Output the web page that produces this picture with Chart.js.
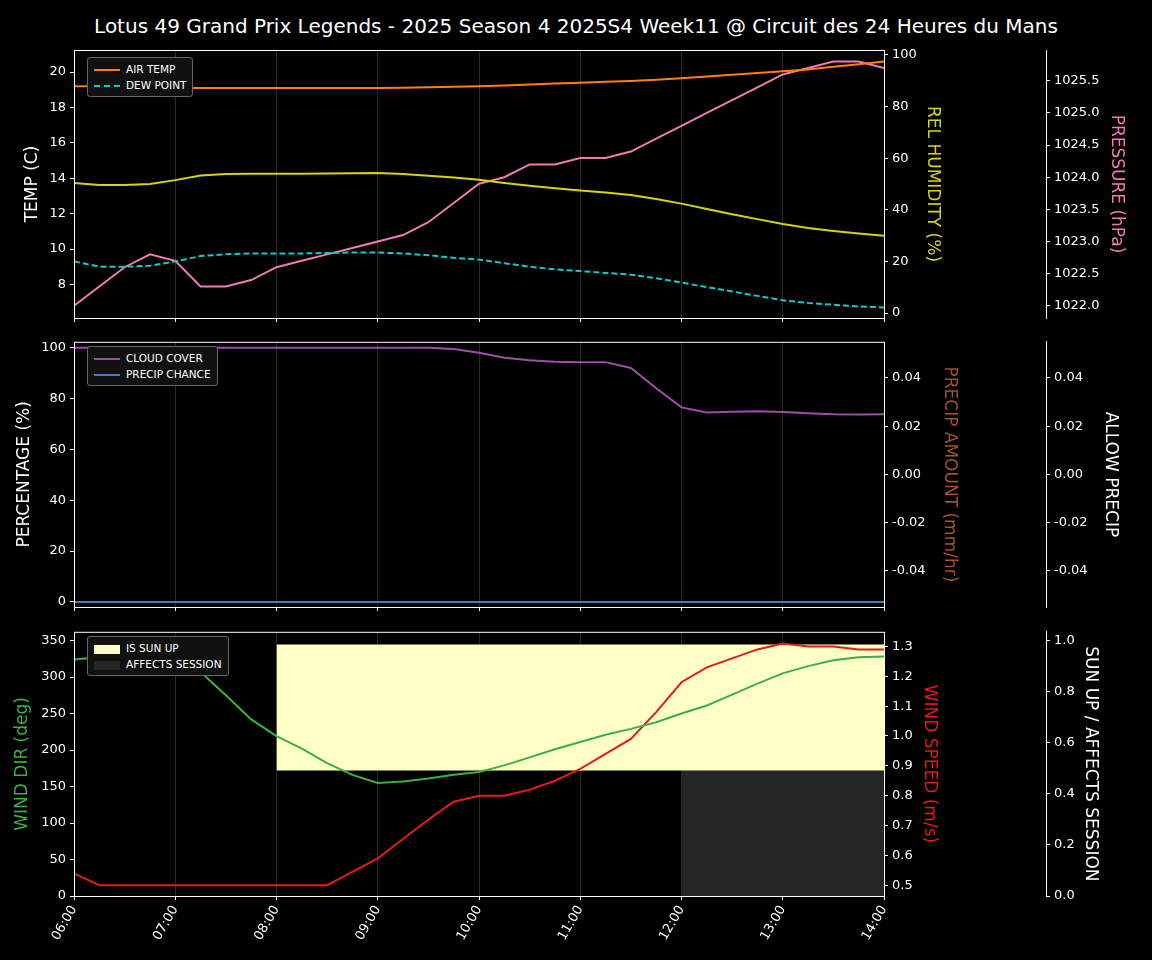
<!DOCTYPE html>
<html>
<head>
<meta charset="utf-8">
<script src="https://cdn.jsdelivr.net/npm/chart.js@4/dist/chart.umd.min.js"></script>
<style>
  body { margin: 0; background: #000; width: 1152px; height: 960px; position: relative; overflow: hidden; font-family: "DejaVu Sans", sans-serif; }
  canvas { position: absolute; left: 0; }
  #title { position: absolute; top: 14px; left: 0; width: 1152px; text-align: center; color: #fff; font-size: 20px; }
  .legend { position: absolute; border: 1px solid #666; border-radius: 3px; background: #111; color: #fff; font-size: 10.5px; padding: 3px 6px; }
  .legend div { height: 16px; line-height: 16px; white-space: nowrap; }
  .sw { display: inline-block; width: 26px; margin-right: 6px; vertical-align: middle; }
</style>
</head>
<body>
<div id="title">Lotus 49 Grand Prix Legends - 2025 Season 4 2025S4 Week11 @ Circuit des 24 Heures du Mans</div>
<canvas id="c1"></canvas>
<canvas id="c2"></canvas>
<canvas id="c3"></canvas>
<div class="legend" style="left:87px;top:57px">
  <div><span class="sw" style="border-top:2px solid #ff7f0e"></span>AIR TEMP</div>
  <div><span class="sw" style="border-top:2px dashed #17c8c8"></span>DEW POINT</div>
</div>
<div class="legend" style="left:87px;top:346px">
  <div><span class="sw" style="border-top:2px solid #9b4fa5"></span>CLOUD COVER</div>
  <div><span class="sw" style="border-top:2px solid #3d7fc4"></span>PRECIP CHANCE</div>
</div>
<div class="legend" style="left:87px;top:636px">
  <div><span class="sw" style="height:9px;background:#ffffc6"></span>IS SUN UP</div>
  <div><span class="sw" style="height:9px;background:#262626"></span>AFFECTS SESSION</div>
</div>
<script>
const times = ['06:00','06:15','06:30','06:45','07:00','07:15','07:30','07:45','08:00','08:15','08:30','08:45',
  '09:00','09:15','09:30','09:45','10:00','10:15','10:30','10:45','11:00','11:15','11:30','11:45',
  '12:00','12:15','12:30','12:45','13:00','13:15','13:30','13:45','14:00'];
const hourTicks = ['06:00','07:00','08:00','09:00','10:00','11:00','12:00','13:00','14:00'];

const airTemp = [19.2,19.2,19.15,19.1,19.1,19.1,19.1,19.1,19.1,19.1,19.1,19.1,
  19.1,19.12,19.14,19.17,19.2,19.25,19.3,19.35,19.4,19.45,19.5,19.57,
  19.65,19.75,19.85,19.95,20.05,20.15,20.3,20.45,20.6];
const dewPoint = [9.3,9.0,9.0,9.05,9.3,9.6,9.7,9.75,9.75,9.75,9.78,9.8,
  9.8,9.75,9.65,9.5,9.4,9.2,9.0,8.85,8.75,8.65,8.55,8.35,
  8.1,7.85,7.6,7.35,7.1,6.95,6.85,6.75,6.7];
const humidity = [50.4,49.6,49.6,50,51.5,53.3,53.9,54,54,54,54.1,54.2,
  54.3,53.9,53.2,52.5,51.6,50.4,49.3,48.4,47.5,46.7,45.7,44.2,
  42.4,40.3,38.3,36.4,34.5,33,31.8,30.8,30];
const pressure = [1022.0,1022.3,1022.6,1022.8,1022.7,1022.3,1022.3,1022.4,1022.6,1022.7,1022.8,1022.9,
  1023.0,1023.1,1023.3,1023.6,1023.9,1024.0,1024.2,1024.2,1024.3,1024.3,1024.4,1024.6,
  1024.8,1025.0,1025.2,1025.4,1025.6,1025.7,1025.8,1025.8,1025.7];
const cloudCover = [100,100,100,100,100,100,100,100,100,100,100,100,
  100,100,100,99.5,98,96,95,94.5,94.3,94.3,92,84,
  76.5,74.5,74.8,75,74.7,74.2,73.8,73.7,73.8];
const precipChance = times.map(() => 0);
const windDir = [324,327,331,331,330,307,275,242,219,202,182,166,
  155,157,161,166,170,179,190,201,211,221,229,238,
  250,261,276,291,305,315,323,327,328];
const windSpeed = [0.54,0.5,0.5,0.5,0.5,0.5,0.5,0.5,0.5,0.5,0.5,0.545,
  0.59,0.655,0.72,0.78,0.8,0.8,0.82,0.85,0.89,0.94,0.99,1.08,
  1.18,1.23,1.26,1.29,1.31,1.30,1.30,1.29,1.29];
const sunUp = [['08:00', 0.492, 0.985], ['14:00', 0.492, 0.985]];
const affects = [['12:00', 0, 0.492], ['14:00', 0, 0.492]];

const hrs = t => { const [h, m] = t.split(':').map(Number); return h + m / 60; };
const pts = arr => arr.map((v, i) => ({x: hrs(times[i]), y: v}));
const fmtHour = v => String(Math.floor(v)).padStart(2, '0') + ':00';

Chart.defaults.font.family = '"DejaVu Sans", sans-serif';
Chart.defaults.color = '#fff';
Chart.defaults.animation = false;

const frame = {
  id: 'frame',
  afterDatasetsDraw(chart) {
    const a = chart.chartArea, ctx = chart.ctx;
    ctx.save();
    ctx.strokeStyle = '#fff';
    ctx.lineWidth = 1;
    ctx.strokeRect(a.left + 0.5, a.top + 0.5, a.right - a.left, a.bottom - a.top);
    ctx.restore();
  }
};

function fixTicks(vals) {
  return scale => { scale.ticks = vals.map(v => ({value: v})); };
}

function yAxis(pos, opts) {
  return {
    position: pos,
    min: opts.min, max: opts.max,
    weight: opts.weight || 0,
    afterBuildTicks: fixTicks(opts.ticks),
    afterFit: s => { s.width = opts.width; },
    grid: {drawOnChartArea: false, color: '#fff', tickLength: 4},
    border: {display: !!opts.border, color: '#fff'},
    ticks: {color: '#fff', font: {size: 13}, padding: 4, callback: opts.fmt || (v => v)},
    title: {display: true, text: opts.title, color: opts.color || '#fff', font: {size: 17}, padding: {top: opts.tp, bottom: 0}}
  };
}

function xAxis(height, labels) {
  return {
    type: 'linear', min: 6, max: 14,
    afterBuildTicks: fixTicks(hourTicks.map(hrs)),
    afterFit: s => { s.height = height; },
    grid: {color: '#2a2a2a', tickLength: 4, tickColor: '#fff'},
    border: {display: false},
    ticks: {display: labels, color: '#fff', font: {size: 13}, maxRotation: 60, minRotation: 60, callback: fmtHour}
  };
}

function line(data, color, axis, extra) {
  return Object.assign({data: pts(data), borderColor: color, backgroundColor: color, borderWidth: 2,
    pointRadius: 0, yAxisID: axis, fill: false, order: 0}, extra || {});
}

function setup(id, top, height, padTop) {
  const c = document.getElementById(id);
  c.style.top = top + 'px';
  c.width = 1152; c.height = height;
  c.style.width = '1152px'; c.style.height = height + 'px';
  return {padding: {top: padTop, left: 0, right: 0, bottom: 0}};
}

const common = {responsive: false, plugins: {legend: {display: false}, tooltip: {enabled: false}}};

new Chart('c1', {
  type: 'line',
  data: {datasets: [
    line(airTemp, '#ff7f0e', 'temp'),
    line(dewPoint, '#17c8c8', 'temp', {borderDash: [6, 3]}),
    line(humidity, '#d4d414', 'hum'),
    line(pressure, '#f07ab4', 'pres')
  ]},
  options: Object.assign({}, common, {
    layout: setup('c1', 0, 330, 50),
    scales: {
      x: xAxis(12, false),
      temp: yAxis('left', {min: 6.1, max: 21.25, ticks: [8,10,12,14,16,18,20], width: 74, title: 'TEMP (C)', tp: 22}),
      hum: yAxis('right', {min: -1.9, max: 101.9, ticks: [0,20,40,60,80,100], width: 162, title: 'REL HUMIDITY (%)', color: '#d4d414', tp: 103}),
      pres: yAxis('right', {min: 1021.81, max: 1025.98, ticks: [1022,1022.5,1023,1023.5,1024,1024.5,1025,1025.5], width: 106, weight: 1, border: true, title: 'PRESSURE (hPa)', color: '#f07ab4', tp: 25, fmt: v => v.toFixed(1)})
    }
  }),
  plugins: [frame]
});

new Chart('c2', {
  type: 'line',
  data: {datasets: [
    line(cloudCover, '#9b4fa5', 'pct'),
    line(precipChance, '#3d7fc4', 'pct')
  ]},
  options: Object.assign({}, common, {
    layout: setup('c2', 330, 290, 8),
    scales: {
      x: xAxis(13, false),
      pct: yAxis('left', {min: -2, max: 102.3, ticks: [0,20,40,60,80,100], width: 74, title: 'PERCENTAGE (%)', tp: 14}),
      amt: yAxis('right', {min: -0.055, max: 0.055, ticks: [-0.04,-0.02,0,0.02,0.04], width: 162, title: 'PRECIP AMOUNT (mm/hr)', color: '#a0522d', tp: 86, fmt: v => v.toFixed(2)}),
      allow: yAxis('right', {min: -0.055, max: 0.055, ticks: [-0.04,-0.02,0,0.02,0.04], width: 106, weight: 1, border: true, title: 'ALLOW PRECIP', tp: 31, fmt: v => v.toFixed(2)})
    }
  }),
  plugins: [frame]
});

new Chart('c3', {
  type: 'line',
  data: {datasets: [
    {data: sunUp.map(r => ({x: hrs(r[0]), y: r[1]})), yAxisID: 'sun', borderWidth: 0, pointRadius: 0, fill: false, order: 10},
    {data: sunUp.map(r => ({x: hrs(r[0]), y: r[2]})), yAxisID: 'sun', borderWidth: 0, pointRadius: 0, fill: '-1', backgroundColor: '#ffffc6', order: 10},
    {data: affects.map(r => ({x: hrs(r[0]), y: r[2]})), yAxisID: 'sun', borderWidth: 0, pointRadius: 0, fill: {value: 0}, backgroundColor: '#262626', order: 10},
    line(windDir, '#3cb043', 'dir'),
    line(windSpeed, '#e41a1c', 'spd')
  ]},
  options: Object.assign({}, common, {
    layout: setup('c3', 620, 340, 7),
    scales: {
      x: xAxis(64, true),
      dir: yAxis('left', {min: 0, max: 362, ticks: [0,50,100,150,200,250,300,350], width: 74, title: 'WIND DIR (deg)', color: '#3cb043', tp: 12}),
      spd: yAxis('right', {min: 0.464, max: 1.349, ticks: [0.5,0.6,0.7,0.8,0.9,1.0,1.1,1.2,1.3], width: 162, title: 'WIND SPEED (m/s)', color: '#e41a1c', tp: 106, fmt: v => v.toFixed(1)}),
      sun: yAxis('right', {min: 0, max: 1.035, ticks: [0,0.2,0.4,0.6,0.8,1.0], width: 106, weight: 1, border: true, title: 'SUN UP / AFFECTS SESSION', tp: 51, fmt: v => v.toFixed(1)})
    }
  }),
  plugins: [frame]
});
</script>
</body>
</html>
